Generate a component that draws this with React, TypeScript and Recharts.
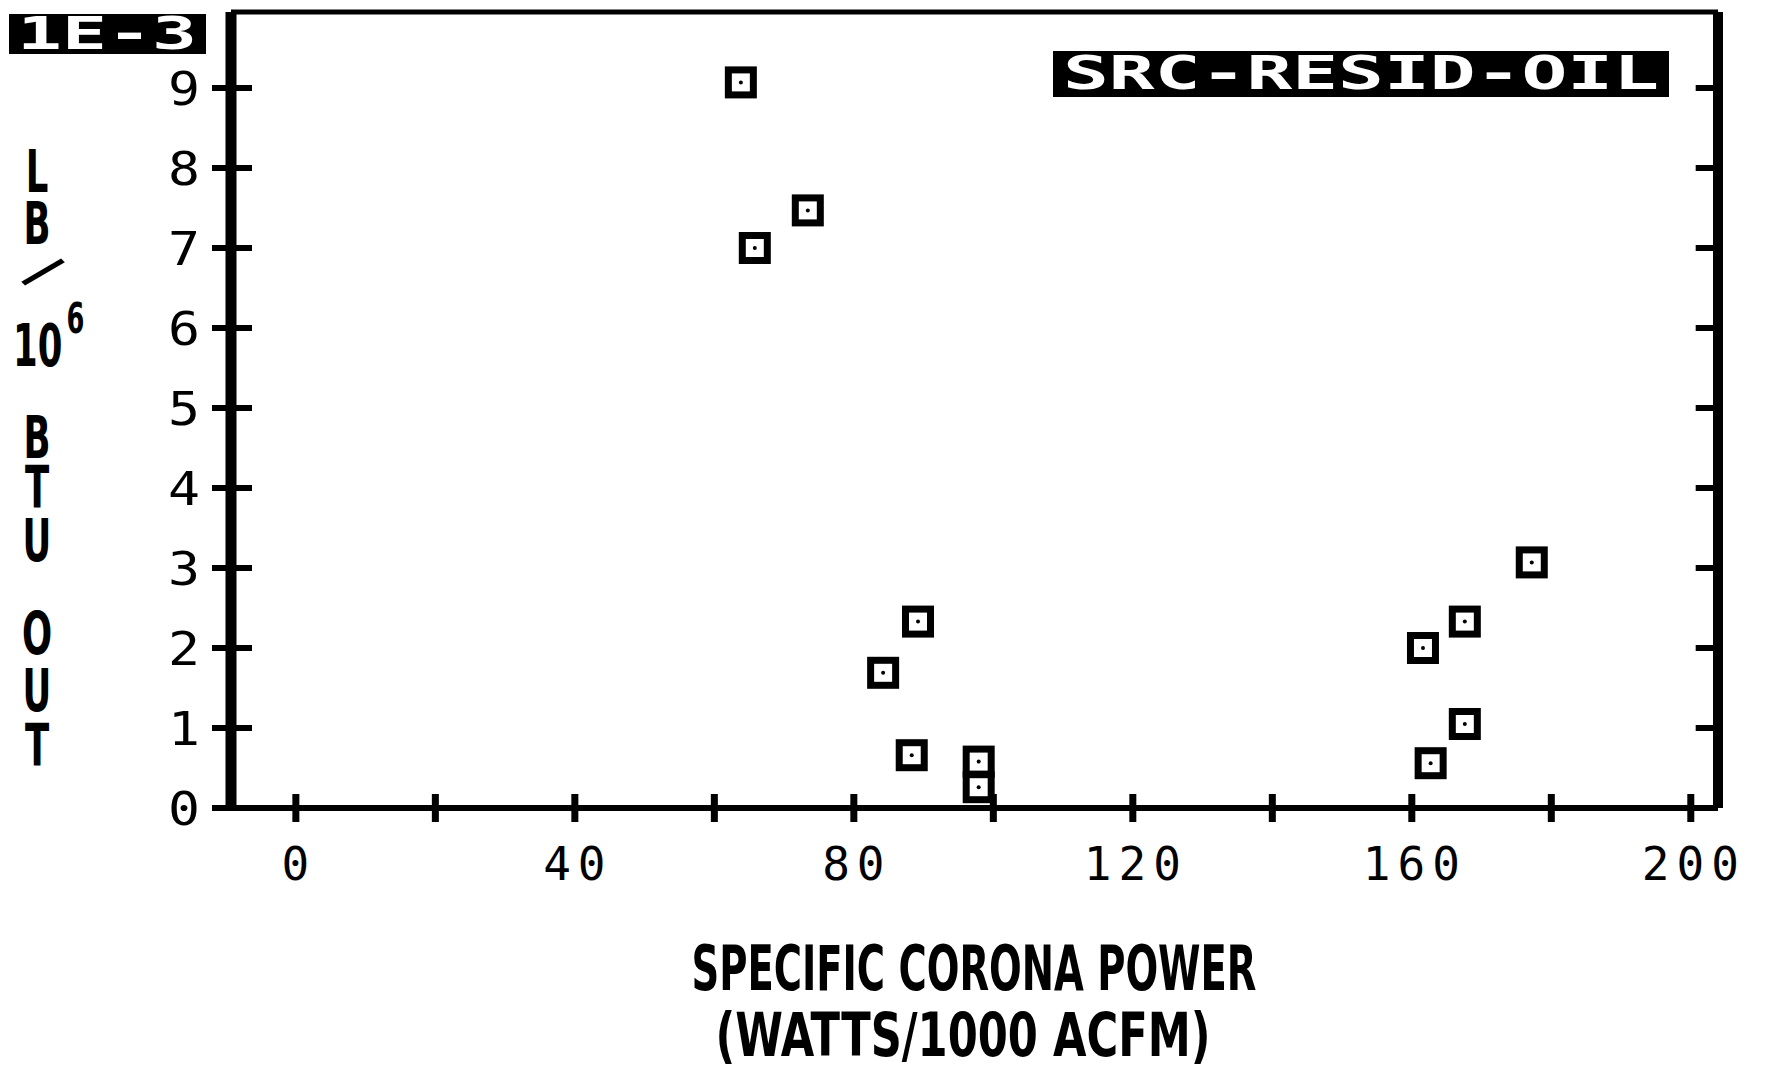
import { ScatterChart, Scatter, XAxis, YAxis, ReferenceLine } from "recharts";

const powerX = [63.8, 65.8, 73.4, 84.2, 89.2, 88.3, 97.9, 97.9, 161.6, 167.6, 167.6, 162.7, 177.2];
const emissionY = [9.07, 7.0, 7.47, 1.69, 2.33, 0.66, 0.58, 0.26, 2.0, 2.33, 1.05, 0.56, 3.07];
const xTicks = [0, 20, 40, 60, 80, 100, 120, 140, 160, 180, 200];
const yTicks = [0, 1, 2, 3, 4, 5, 6, 7, 8, 9];

const points = powerX.map((x, i) => ({ x, y: emissionY[i] }));

const X_MIN = -9.3;
const X_MAX = 203.9;
const Y_MAX = 9.95;

const MONO = "'DejaVu Sans Mono', monospace";
const BOLD = "'DejaVu Sans Condensed', 'Liberation Sans Narrow', sans-serif";

function SquareMark(props: any) {
  const { cx, cy } = props;
  return (
    <g>
      <rect x={cx - 12.5} y={cy - 12.5} width={25} height={25} fill="#fff" stroke="#000" strokeWidth={7} />
      <circle cx={cx} cy={cy} r={2} fill="#000" />
    </g>
  );
}

function BottomTick(props: any) {
  const { x, y, payload } = props;
  const v = payload.value;
  return (
    <g>
      <rect x={x - 3.5} y={y - 14} width={7} height={28} fill="#000" />
      {v % 40 === 0 && (
        <text x={x + 3} y={y + 72} textAnchor="middle" fontFamily={MONO} fontSize={46} letterSpacing={7} fill="#000">
          {v}
        </text>
      )}
    </g>
  );
}

function LeftTick(props: any) {
  const { x, y, payload } = props;
  return (
    <g>
      <rect x={x - 19} y={y - 3} width={40} height={6} fill="#000" />
      <text x={x - 47} y={y + 17} textAnchor="middle" fontFamily={MONO} fontSize={46}
        textLength={32} lengthAdjust="spacingAndGlyphs" fill="#000">
        {payload.value}
      </text>
    </g>
  );
}

// stacked letters of the y title (baselines)
const yTitleTop = [
  { t: "L", y: 192 },
  { t: "B", y: 244 },
];
const yTitleBottom = [
  { t: "B", y: 458 },
  { t: "T", y: 508 },
  { t: "U", y: 561 },
  { t: "O", y: 654 },
  { t: "U", y: 711 },
  { t: "T", y: 766 },
];

export default function App() {
  return (
    <div style={{ position: "absolute", left: 0, top: 0, width: 1771, height: 1071, background: "#fff" }}>
      <ScatterChart width={1771} height={1071} margin={{ top: 12, right: 0, bottom: 0, left: 0 }}>
        <XAxis
          type="number"
          dataKey="x"
          domain={[X_MIN, X_MAX]}
          ticks={xTicks}
          allowDataOverflow
          height={263}
          axisLine={{ stroke: "#000", strokeWidth: 6 }}
          tickLine={false}
          tickSize={0}
          tickMargin={0}
          tick={<BottomTick />}
          interval={0}
        />
        <YAxis
          type="number"
          dataKey="y"
          domain={[0, Y_MAX]}
          ticks={yTicks}
          allowDataOverflow
          width={231}
          axisLine={{ stroke: "#000", strokeWidth: 11 }}
          tickLine={false}
          tickSize={0}
          tickMargin={0}
          tick={<LeftTick />}
          interval={0}
        />
        <YAxis
          yAxisId="right"
          orientation="right"
          type="number"
          domain={[0, Y_MAX]}
          width={53}
          axisLine={{ stroke: "#000", strokeWidth: 10 }}
          tickLine={false}
          tick={false}
        />
        <ReferenceLine y={Y_MAX} stroke="#000" strokeWidth={5} ifOverflow="visible" />
        {yTicks.slice(1).map((v) => (
          <ReferenceLine
            key={v}
            segment={[{ x: X_MAX - 3.2, y: v }, { x: X_MAX, y: v }]}
            stroke="#000"
            strokeWidth={6}
            ifOverflow="visible"
          />
        ))}
        <Scatter data={points} shape={<SquareMark />} isAnimationActive={false} />
      </ScatterChart>

      <svg width={1771} height={1071} style={{ position: "absolute", left: 0, top: 0, pointerEvents: "none" }}>
        <rect x={9} y={14} width={197} height={40} fill="#000" />
        <text x={107} y={49} textAnchor="middle" fontFamily={MONO} fontWeight="bold" fontSize={44}
          textLength={180} lengthAdjust="spacingAndGlyphs" fill="#fff">1E-3</text>

        <rect x={1053} y={51} width={616} height={46} fill="#000" />
        <text x={1361} y={89} textAnchor="middle" fontFamily={MONO} fontWeight="bold" fontSize={46}
          textLength={596} lengthAdjust="spacingAndGlyphs" fill="#fff">SRC-RESID-OIL</text>

        <g transform="translate(37 0) scale(0.68 1)">
          <text textAnchor="middle" fontFamily={BOLD} fontWeight="bold" fontSize={58} fill="#000">
            {yTitleTop.map((l, i) => (
              <tspan key={i} x={0} y={l.y}>{l.t}</tspan>
            ))}
          </text>
          <text textAnchor="middle" fontFamily={BOLD} fontWeight="bold" fontSize={58} fill="#000">
            {yTitleBottom.map((l, i) => (
              <tspan key={i} x={0} y={l.y}>{l.t}</tspan>
            ))}
          </text>
        </g>
        <text x={0} y={0} transform="translate(44 271) rotate(44)" textAnchor="middle" dominantBaseline="central"
          fontFamily={BOLD} fontWeight="bold" fontSize={54} fill="#000">/</text>
        <g transform="translate(13 366) scale(0.68 1)">
          <text x={0} y={0} textAnchor="start" fontFamily={BOLD} fontWeight="bold" fontSize={58} fill="#000">
            10<tspan dx={6} dy={-33} fontSize={42}>6</tspan>
          </text>
        </g>

        <text x={974} y={990} textAnchor="middle" fontFamily={BOLD} fontWeight="bold" fontSize={62}
          textLength={565} lengthAdjust="spacingAndGlyphs" fill="#000">SPECIFIC CORONA POWER</text>
        <text x={963} y={1056} textAnchor="middle" fontFamily={BOLD} fontWeight="bold" fontSize={60}
          textLength={495} lengthAdjust="spacingAndGlyphs" fill="#000">(WATTS/1000 ACFM)</text>
      </svg>
    </div>
  );
}
